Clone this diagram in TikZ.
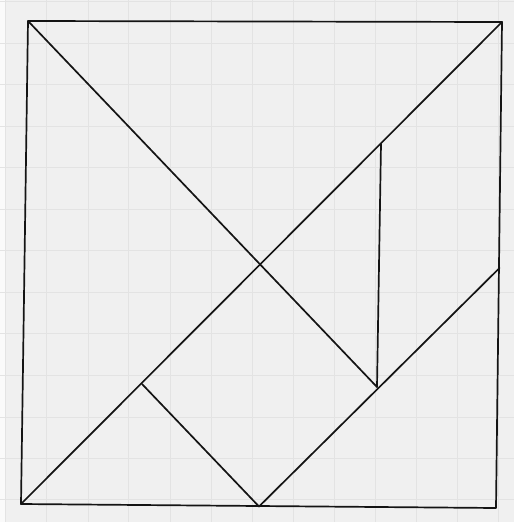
\documentclass[tikz,border=0pt]{standalone}
\begin{document}
\begin{tikzpicture}[x=1pt,y=-1pt,
  ink/.style={line width=1.7pt,draw=black!92,line join=round,line cap=round},
  gridline/.style={line width=0.9pt,draw=black!11}]
\useasboundingbox (0,0) rectangle (514,522);
\fill[black!6] (0,0) rectangle (514,522);
\fill[black!2] (0,0) rectangle (6,522);
% grid paper
\foreach \gx in {5,46.5,88,128,170,211,252,293,334,375,416,457,498}
  \draw[gridline] (\gx,0) -- (\gx,522);
\foreach \gy in {1,43,84,126,167,209,250,292,333,375,417,458,499}
  \draw[gridline] (0,\gy) -- (514,\gy);
% points
\coordinate (TL) at (28,21);
\coordinate (TR) at (502,22);
\coordinate (BR) at (496,508);
\coordinate (BL) at (21,504);
\coordinate (C) at (261,267);
\coordinate (VT) at (381,144);
\coordinate (VB) at (377,387);
\coordinate (R) at (499.5,268);
\coordinate (M) at (259,506.5);
\coordinate (P) at (142,384);
% outline
\draw[ink] (TL) -- (TR) -- (BR) -- (BL) -- cycle;
% pieces
\draw[ink] (TR) -- (BL);
\draw[ink] (TL) -- (VB);
\draw[ink] (VT) -- (VB);
\draw[ink] (R) -- (M);
\draw[ink] (P) -- (M);
\end{tikzpicture}
\end{document}
